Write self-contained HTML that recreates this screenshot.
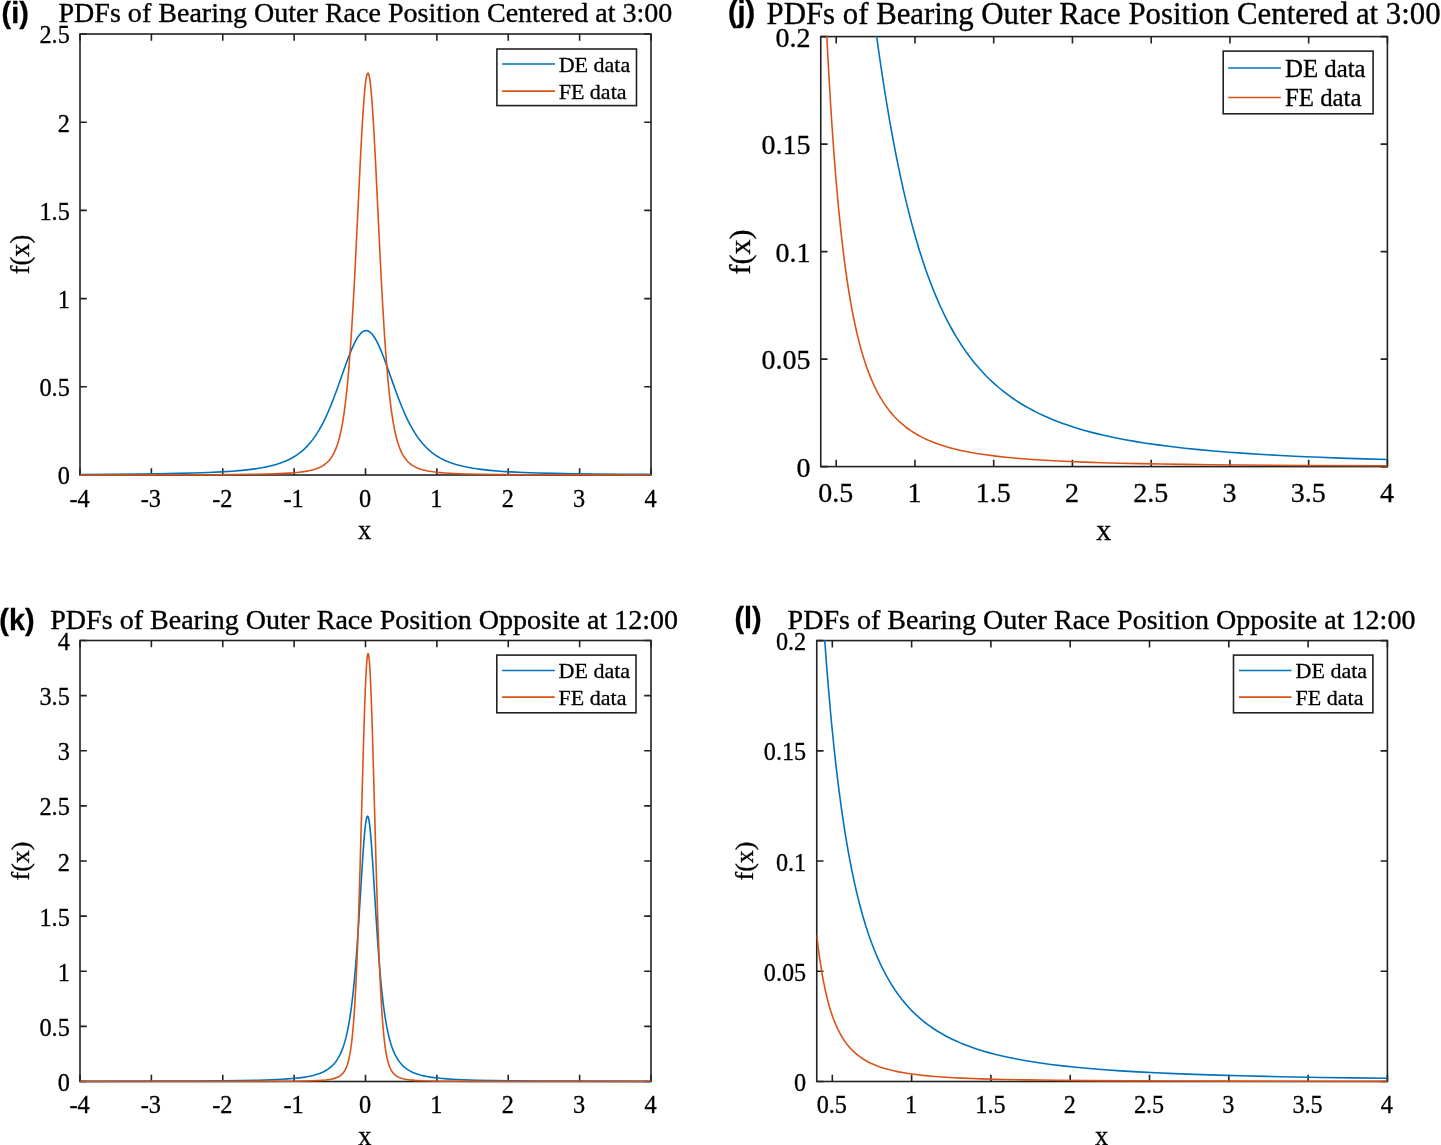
<!DOCTYPE html>
<html lang="en"><head><meta charset="utf-8"><title>PDFs of Bearing Outer Race Position</title>
<style>html,body{margin:0;padding:0;background:#fff;}body{width:1441px;height:1145px;overflow:hidden;}svg{display:block;}</style></head><body>
<svg width="1441" height="1145" viewBox="0 0 1441 1145">
<rect width="1441" height="1145" fill="#fff"/>
<g id="panel-i">
<path d="M80.00 475.00 V468.20 M80.00 34.00 V40.80 M151.38 475.00 V468.20 M151.38 34.00 V40.80 M222.75 475.00 V468.20 M222.75 34.00 V40.80 M294.12 475.00 V468.20 M294.12 34.00 V40.80 M365.50 475.00 V468.20 M365.50 34.00 V40.80 M436.88 475.00 V468.20 M436.88 34.00 V40.80 M508.25 475.00 V468.20 M508.25 34.00 V40.80 M579.62 475.00 V468.20 M579.62 34.00 V40.80 M651.00 475.00 V468.20 M651.00 34.00 V40.80 M80.00 475.00 H86.80 M651.00 475.00 H644.20 M80.00 386.80 H86.80 M651.00 386.80 H644.20 M80.00 298.60 H86.80 M651.00 298.60 H644.20 M80.00 210.40 H86.80 M651.00 210.40 H644.20 M80.00 122.20 H86.80 M651.00 122.20 H644.20 M80.00 34.00 H86.80 M651.00 34.00 H644.20" stroke="#222222" stroke-width="1.60" fill="none"/>
<rect x="80.00" y="34.00" width="571.00" height="441.00" fill="none" stroke="#222222" stroke-width="1.60"/>
<clipPath id="clip-i"><rect x="79.70" y="33.70" width="571.60" height="442.50"/></clipPath>
<g clip-path="url(#clip-i)" fill="none" stroke-width="1.60" stroke-linejoin="round">
<path d="M80.00 474.43 L110.50 474.25 L136.50 474.02 L158.50 473.74 L177.50 473.40 L194.00 472.98 L208.50 472.48 L221.00 471.89 L232.00 471.20 L242.00 470.37 L246.50 469.91 L251.00 469.39 L255.00 468.85 L259.00 468.25 L263.00 467.56 L266.50 466.87 L270.00 466.09 L273.00 465.35 L276.00 464.51 L279.00 463.58 L282.00 462.53 L284.50 461.55 L287.00 460.48 L289.50 459.28 L292.00 457.96 L294.00 456.81 L296.00 455.55 L298.00 454.18 L300.00 452.68 L302.00 451.06 L304.00 449.29 L305.50 447.87 L307.50 445.82 L309.00 444.16 L311.00 441.79 L312.50 439.88 L314.50 437.14 L316.00 434.94 L317.50 432.60 L319.00 430.13 L320.50 427.52 L322.00 424.76 L323.50 421.85 L325.00 418.80 L326.50 415.59 L328.00 412.24 L331.00 405.10 L333.50 398.75 L336.50 390.71 L345.00 366.78 L348.00 358.58 L349.50 354.67 L351.00 350.93 L352.50 347.41 L354.00 344.14 L355.50 341.15 L357.00 338.48 L358.50 336.16 L360.00 334.21 L361.00 333.14 L361.50 332.67 L362.50 331.88 L363.00 331.55 L364.00 331.04 L364.50 330.86 L365.00 330.73 L366.00 330.62 L367.00 330.70 L367.50 330.82 L368.00 330.99 L369.00 331.47 L369.50 331.78 L370.50 332.55 L371.00 333.00 L372.00 334.05 L373.50 335.96 L375.00 338.24 L376.50 340.88 L378.50 344.89 L379.50 347.09 L381.00 350.59 L382.50 354.31 L384.00 358.20 L387.00 366.39 L393.00 383.36 L396.00 391.69 L399.00 399.68 L401.50 405.98 L404.50 413.05 L406.00 416.37 L407.50 419.54 L409.00 422.56 L410.50 425.43 L412.00 428.15 L413.50 430.73 L415.00 433.17 L416.50 435.47 L418.00 437.65 L420.00 440.34 L421.50 442.23 L423.00 444.00 L424.50 445.66 L426.50 447.73 L428.00 449.16 L430.00 450.94 L432.00 452.57 L434.00 454.07 L436.00 455.45 L438.00 456.72 L440.00 457.89 L442.50 459.21 L445.00 460.41 L447.50 461.49 L450.00 462.47 L453.00 463.53 L456.00 464.47 L459.00 465.31 L462.00 466.06 L465.50 466.84 L469.00 467.53 L473.00 468.23 L477.00 468.83 L481.00 469.37 L485.50 469.90 L490.00 470.36 L500.00 471.19 L511.00 471.89 L523.50 472.48 L538.00 472.98 L554.50 473.39 L573.00 473.73 L595.00 474.01 L620.50 474.24 L651.00 474.42" stroke="#0072BD"/>
<path d="M80.00 474.94 L178.50 474.81 L209.50 474.70 L233.50 474.55 L252.50 474.32 L267.50 474.02 L279.50 473.62 L284.50 473.38 L289.50 473.08 L294.00 472.74 L298.50 472.32 L302.00 471.90 L305.50 471.38 L308.50 470.84 L311.50 470.18 L314.00 469.51 L316.50 468.69 L319.00 467.70 L321.00 466.74 L323.00 465.60 L325.00 464.22 L326.50 463.00 L328.00 461.58 L329.50 459.92 L331.00 457.97 L332.50 455.66 L334.00 452.92 L335.50 449.64 L336.50 447.11 L337.50 444.24 L338.50 440.99 L339.50 437.31 L340.50 433.13 L341.50 428.39 L342.50 423.01 L343.50 416.91 L344.00 413.57 L345.00 406.23 L346.00 397.95 L347.50 383.57 L349.00 366.59 L350.50 346.77 L351.50 331.94 L353.00 307.25 L354.00 289.26 L355.50 260.31 L360.50 157.25 L362.00 129.37 L363.00 113.01 L364.00 98.96 L364.50 92.94 L365.00 87.65 L365.50 83.13 L366.00 79.41 L366.50 76.53 L367.00 74.51 L367.50 73.36 L368.00 73.10 L368.50 73.72 L369.00 75.23 L369.50 77.60 L370.00 80.82 L370.50 84.87 L371.00 89.71 L371.50 95.31 L372.00 101.62 L373.00 116.17 L374.00 132.95 L375.50 161.27 L380.00 254.35 L381.50 283.72 L382.50 302.04 L384.00 327.29 L385.00 342.51 L386.50 362.90 L388.00 380.43 L389.50 395.30 L390.50 403.88 L391.50 411.49 L392.00 414.96 L393.00 421.28 L394.00 426.87 L395.00 431.79 L396.00 436.12 L397.00 439.95 L398.00 443.32 L399.00 446.29 L400.00 448.92 L401.50 452.32 L403.00 455.15 L404.50 457.54 L406.00 459.56 L407.50 461.27 L409.00 462.74 L410.50 463.99 L412.00 465.08 L414.00 466.31 L416.00 467.34 L418.50 468.40 L421.00 469.26 L423.50 469.98 L426.50 470.68 L429.50 471.25 L433.00 471.79 L436.50 472.23 L440.50 472.63 L445.00 472.99 L449.50 473.28 L454.50 473.54 L466.50 473.97 L481.50 474.29 L500.00 474.52 L523.50 474.69 L554.00 474.81 L651.00 474.93" stroke="#D95319"/>
</g>
<g font-family="'Liberation Serif', serif" font-size="24.30" fill="#000" stroke="#000" stroke-width="0.3">
<text x="79.50" y="507.30" text-anchor="middle">-4</text>
<text x="150.88" y="507.30" text-anchor="middle">-3</text>
<text x="222.25" y="507.30" text-anchor="middle">-2</text>
<text x="293.62" y="507.30" text-anchor="middle">-1</text>
<text x="365.00" y="507.30" text-anchor="middle">0</text>
<text x="436.38" y="507.30" text-anchor="middle">1</text>
<text x="507.75" y="507.30" text-anchor="middle">2</text>
<text x="579.12" y="507.30" text-anchor="middle">3</text>
<text x="650.50" y="507.30" text-anchor="middle">4</text>
<text x="69.80" y="484.30" text-anchor="end">0</text>
<text x="69.80" y="396.10" text-anchor="end">0.5</text>
<text x="69.80" y="307.90" text-anchor="end">1</text>
<text x="69.80" y="219.70" text-anchor="end">1.5</text>
<text x="69.80" y="131.50" text-anchor="end">2</text>
<text x="69.80" y="43.30" text-anchor="end">2.5</text>
</g>
<text x="365.40" y="22.10" text-anchor="middle" font-family="'Liberation Serif', serif" font-size="28.05" fill="#000" stroke="#000" stroke-width="0.35">PDFs of Bearing Outer Race Position Centered at 3:00</text>
<text x="1.60" y="22.60" font-family="'Liberation Sans', sans-serif" font-weight="bold" font-size="28.8" fill="#000" stroke="#000" stroke-width="0.3">(i)</text>
<text x="364.60" y="539.00" text-anchor="middle" font-family="'Liberation Serif', serif" font-size="26.40" fill="#000" stroke="#000" stroke-width="0.3">x</text>
<text transform="translate(28.60 254.50) rotate(-90)" text-anchor="middle" font-family="'Liberation Serif', serif" font-size="26.40" fill="#000" stroke="#000" stroke-width="0.3">f(x)</text>
<rect x="496.90" y="49.00" width="139.60" height="56.60" fill="#fff" stroke="#222222" stroke-width="1.60"/>
<path d="M502.10 64.05 H555.00" stroke="#0072BD" stroke-width="1.60"/>
<path d="M502.10 91.10 H555.00" stroke="#D95319" stroke-width="1.60"/>
<text x="558.70" y="71.90" font-family="'Liberation Serif', serif" font-size="22.00" fill="#000" stroke="#000" stroke-width="0.3">DE data</text>
<text x="558.70" y="98.75" font-family="'Liberation Serif', serif" font-size="22.00" fill="#000" stroke="#000" stroke-width="0.3">FE data</text>
</g>
<g id="panel-j">
<path d="M836.21 466.60 V459.80 M836.21 36.60 V43.40 M914.96 466.60 V459.80 M914.96 36.60 V43.40 M993.70 466.60 V459.80 M993.70 36.60 V43.40 M1072.44 466.60 V459.80 M1072.44 36.60 V43.40 M1151.18 466.60 V459.80 M1151.18 36.60 V43.40 M1229.92 466.60 V459.80 M1229.92 36.60 V43.40 M1308.66 466.60 V459.80 M1308.66 36.60 V43.40 M1387.40 466.60 V459.80 M1387.40 36.60 V43.40 M820.75 466.60 H827.55 M1387.40 466.60 H1380.60 M820.75 359.10 H827.55 M1387.40 359.10 H1380.60 M820.75 251.60 H827.55 M1387.40 251.60 H1380.60 M820.75 144.10 H827.55 M1387.40 144.10 H1380.60 M820.75 36.60 H827.55 M1387.40 36.60 H1380.60" stroke="#222222" stroke-width="1.60" fill="none"/>
<rect x="820.75" y="36.60" width="566.65" height="430.00" fill="none" stroke="#222222" stroke-width="1.60"/>
<clipPath id="clip-j"><rect x="820.45" y="36.30" width="567.25" height="431.50"/></clipPath>
<g clip-path="url(#clip-j)" fill="none" stroke-width="1.60" stroke-linejoin="round">
<path d="M820.75 -23.40 L868.75 -23.40 L869.75 -17.20 L872.75 6.95 L875.75 29.83 L877.75 44.40 L880.75 65.27 L883.75 85.00 L886.75 103.64 L889.75 121.26 L892.75 137.89 L895.75 153.60 L898.75 168.42 L901.75 182.42 L903.75 191.31 L905.75 199.86 L908.75 212.09 L910.75 219.87 L912.75 227.35 L914.75 234.55 L916.75 241.48 L918.75 248.15 L920.75 254.58 L922.75 260.76 L924.75 266.72 L926.75 272.46 L928.75 277.99 L930.75 283.32 L932.75 288.46 L934.75 293.41 L936.75 298.18 L938.75 302.78 L940.75 307.22 L942.75 311.50 L945.75 317.65 L947.75 321.56 L949.75 325.34 L951.75 329.00 L954.75 334.24 L956.75 337.59 L959.75 342.40 L961.75 345.48 L964.75 349.90 L966.75 352.73 L969.75 356.80 L971.75 359.41 L974.75 363.16 L976.75 365.56 L979.75 369.03 L982.75 372.33 L985.75 375.48 L988.75 378.49 L991.75 381.36 L994.75 384.11 L997.75 386.74 L1000.75 389.25 L1003.75 391.65 L1006.75 393.95 L1009.75 396.15 L1012.75 398.27 L1015.75 400.29 L1018.75 402.23 L1022.75 404.70 L1025.75 406.47 L1028.75 408.16 L1031.75 409.79 L1035.75 411.87 L1038.75 413.35 L1042.75 415.25 L1046.75 417.05 L1050.75 418.77 L1054.75 420.40 L1058.75 421.95 L1062.75 423.44 L1066.75 424.85 L1074.75 427.49 L1078.75 428.72 L1083.75 430.18 L1092.75 432.62 L1097.75 433.88 L1102.75 435.07 L1112.75 437.27 L1123.75 439.46 L1134.75 441.41 L1145.75 443.18 L1157.75 444.91 L1170.75 446.58 L1184.75 448.19 L1198.75 449.62 L1213.75 450.98 L1228.75 452.19 L1245.75 453.41 L1262.75 454.48 L1280.75 455.49 L1299.75 456.43 L1319.75 457.30 L1340.75 458.10 L1363.75 458.87 L1387.40 459.57" stroke="#0072BD"/>
<path d="M820.75 -23.40 L823.75 -23.40 L824.75 -7.65 L825.75 14.21 L827.75 54.37 L828.75 72.80 L830.75 106.68 L831.75 122.24 L833.75 150.88 L835.75 176.54 L837.75 199.55 L838.75 210.16 L840.75 229.77 L842.75 247.44 L844.75 263.39 L845.75 270.79 L847.75 284.52 L849.75 296.97 L851.75 308.29 L853.75 318.61 L855.75 328.02 L857.75 336.62 L858.75 340.65 L860.75 348.20 L862.75 355.13 L863.75 358.39 L865.75 364.52 L866.75 367.40 L868.75 372.84 L869.75 375.40 L871.75 380.24 L872.75 382.52 L874.75 386.84 L875.75 388.89 L877.75 392.76 L878.75 394.60 L880.75 398.08 L882.75 401.34 L884.75 404.38 L886.75 407.22 L888.75 409.88 L890.75 412.38 L892.75 414.73 L894.75 416.93 L896.75 419.01 L898.75 420.97 L901.75 423.69 L903.75 425.39 L905.75 426.99 L907.75 428.50 L910.75 430.62 L912.75 431.95 L915.75 433.80 L917.75 434.97 L920.75 436.60 L923.75 438.12 L926.75 439.54 L929.75 440.86 L932.75 442.08 L935.75 443.23 L938.75 444.31 L941.75 445.31 L945.75 446.55 L948.75 447.42 L952.75 448.50 L956.75 449.49 L960.75 450.41 L964.75 451.26 L968.75 452.05 L976.75 453.46 L985.75 454.83 L995.75 456.13 L1005.75 457.24 L1016.75 458.27 L1028.75 459.23 L1040.75 460.04 L1053.75 460.78 L1068.75 461.50 L1084.75 462.13 L1101.75 462.70 L1119.75 463.19 L1139.75 463.64 L1161.75 464.04 L1184.75 464.39 L1210.75 464.70 L1239.75 464.99 L1305.75 465.44 L1387.40 465.79" stroke="#D95319"/>
</g>
<g font-family="'Liberation Serif', serif" font-size="28.00" fill="#000" stroke="#000" stroke-width="0.3">
<text x="835.71" y="502.00" text-anchor="middle">0.5</text>
<text x="914.46" y="502.00" text-anchor="middle">1</text>
<text x="993.20" y="502.00" text-anchor="middle">1.5</text>
<text x="1071.94" y="502.00" text-anchor="middle">2</text>
<text x="1150.68" y="502.00" text-anchor="middle">2.5</text>
<text x="1229.42" y="502.00" text-anchor="middle">3</text>
<text x="1308.16" y="502.00" text-anchor="middle">3.5</text>
<text x="1386.90" y="502.00" text-anchor="middle">4</text>
<text x="810.60" y="476.90" text-anchor="end">0</text>
<text x="810.60" y="369.40" text-anchor="end">0.05</text>
<text x="810.60" y="261.90" text-anchor="end">0.1</text>
<text x="810.60" y="154.40" text-anchor="end">0.15</text>
<text x="810.60" y="46.90" text-anchor="end">0.2</text>
</g>
<text x="1103.60" y="23.60" text-anchor="middle" font-family="'Liberation Serif', serif" font-size="30.80" fill="#000" stroke="#000" stroke-width="0.35">PDFs of Bearing Outer Race Position Centered at 3:00</text>
<text x="728.00" y="22.30" font-family="'Liberation Sans', sans-serif" font-weight="bold" font-size="28.8" fill="#000" stroke="#000" stroke-width="0.3">(j)</text>
<text x="1103.70" y="539.80" text-anchor="middle" font-family="'Liberation Serif', serif" font-size="30.00" fill="#000" stroke="#000" stroke-width="0.3">x</text>
<text transform="translate(750.20 252.10) rotate(-90)" text-anchor="middle" font-family="'Liberation Serif', serif" font-size="30.00" fill="#000" stroke="#000" stroke-width="0.3">f(x)</text>
<rect x="1223.20" y="51.10" width="149.90" height="62.70" fill="#fff" stroke="#222222" stroke-width="1.60"/>
<path d="M1228.20 68.05 H1280.90" stroke="#0072BD" stroke-width="1.60"/>
<path d="M1228.20 97.50 H1280.90" stroke="#D95319" stroke-width="1.60"/>
<text x="1285.00" y="76.50" font-family="'Liberation Serif', serif" font-size="24.80" fill="#000" stroke="#000" stroke-width="0.3">DE data</text>
<text x="1285.00" y="106.30" font-family="'Liberation Serif', serif" font-size="24.80" fill="#000" stroke="#000" stroke-width="0.3">FE data</text>
</g>
<g id="panel-k">
<path d="M80.00 1081.50 V1074.70 M80.00 640.50 V647.30 M151.38 1081.50 V1074.70 M151.38 640.50 V647.30 M222.75 1081.50 V1074.70 M222.75 640.50 V647.30 M294.12 1081.50 V1074.70 M294.12 640.50 V647.30 M365.50 1081.50 V1074.70 M365.50 640.50 V647.30 M436.88 1081.50 V1074.70 M436.88 640.50 V647.30 M508.25 1081.50 V1074.70 M508.25 640.50 V647.30 M579.62 1081.50 V1074.70 M579.62 640.50 V647.30 M651.00 1081.50 V1074.70 M651.00 640.50 V647.30 M80.00 1081.50 H86.80 M651.00 1081.50 H644.20 M80.00 1026.38 H86.80 M651.00 1026.38 H644.20 M80.00 971.25 H86.80 M651.00 971.25 H644.20 M80.00 916.12 H86.80 M651.00 916.12 H644.20 M80.00 861.00 H86.80 M651.00 861.00 H644.20 M80.00 805.88 H86.80 M651.00 805.88 H644.20 M80.00 750.75 H86.80 M651.00 750.75 H644.20 M80.00 695.62 H86.80 M651.00 695.62 H644.20 M80.00 640.50 H86.80 M651.00 640.50 H644.20" stroke="#222222" stroke-width="1.60" fill="none"/>
<rect x="80.00" y="640.50" width="571.00" height="441.00" fill="none" stroke="#222222" stroke-width="1.60"/>
<clipPath id="clip-k"><rect x="79.70" y="640.20" width="571.60" height="442.50"/></clipPath>
<g clip-path="url(#clip-k)" fill="none" stroke-width="1.60" stroke-linejoin="round">
<path d="M80.00 1081.35 L167.50 1081.16 L198.00 1081.01 L222.00 1080.81 L242.00 1080.55 L258.00 1080.21 L271.50 1079.78 L282.50 1079.24 L287.50 1078.92 L292.50 1078.52 L297.00 1078.08 L301.00 1077.61 L304.50 1077.11 L308.00 1076.52 L311.00 1075.91 L314.00 1075.19 L317.00 1074.33 L319.50 1073.48 L322.00 1072.48 L324.00 1071.53 L326.00 1070.45 L328.00 1069.18 L330.00 1067.70 L331.50 1066.41 L332.50 1065.46 L333.50 1064.42 L335.00 1062.68 L336.50 1060.67 L338.00 1058.35 L339.50 1055.66 L340.50 1053.62 L342.00 1050.13 L343.00 1047.46 L344.00 1044.48 L345.00 1041.14 L346.00 1037.39 L347.00 1033.17 L348.00 1028.41 L349.00 1023.05 L350.00 1016.99 L350.50 1013.68 L351.50 1006.41 L352.00 1002.44 L353.50 989.01 L355.00 973.09 L356.00 960.99 L357.00 947.69 L358.50 925.65 L362.00 869.03 L363.00 853.73 L364.00 840.12 L364.50 834.18 L365.00 828.96 L365.50 824.54 L366.00 820.99 L366.50 818.38 L367.00 816.75 L367.50 816.13 L368.00 816.55 L368.50 817.98 L369.00 820.41 L369.50 823.78 L370.00 828.04 L370.50 833.11 L371.50 845.35 L372.50 859.74 L376.50 924.15 L378.00 946.34 L379.00 959.75 L380.00 971.97 L381.50 988.06 L383.00 1001.64 L383.50 1005.66 L384.50 1013.01 L385.00 1016.36 L386.00 1022.49 L387.00 1027.92 L388.00 1032.73 L389.00 1037.00 L390.00 1040.79 L391.00 1044.17 L392.00 1047.18 L393.00 1049.88 L394.50 1053.41 L395.50 1055.47 L397.00 1058.19 L398.50 1060.53 L400.00 1062.55 L401.50 1064.32 L402.50 1065.36 L403.50 1066.32 L405.00 1067.62 L407.00 1069.11 L409.00 1070.39 L411.00 1071.49 L413.00 1072.43 L415.50 1073.45 L418.00 1074.30 L421.00 1075.17 L424.00 1075.89 L427.00 1076.50 L430.50 1077.10 L434.00 1077.60 L438.00 1078.07 L442.00 1078.47 L447.00 1078.87 L452.00 1079.21 L463.00 1079.75 L476.50 1080.20 L492.50 1080.54 L512.00 1080.80 L536.00 1081.00 L565.50 1081.15 L651.00 1081.34" stroke="#0072BD"/>
<path d="M80.00 1081.49 L205.50 1081.46 L262.50 1081.39 L281.00 1081.31 L294.50 1081.19 L305.00 1081.02 L313.00 1080.79 L320.50 1080.42 L323.50 1080.19 L326.00 1079.94 L328.50 1079.62 L330.50 1079.30 L332.50 1078.89 L334.50 1078.37 L336.00 1077.87 L337.50 1077.26 L339.00 1076.49 L340.00 1075.86 L341.00 1075.11 L342.00 1074.22 L343.00 1073.14 L344.00 1071.83 L345.00 1070.21 L346.00 1068.22 L347.00 1065.73 L347.50 1064.25 L348.50 1060.74 L349.00 1058.65 L350.00 1053.66 L350.50 1050.68 L351.50 1043.55 L352.00 1039.32 L353.00 1029.24 L354.00 1016.67 L355.00 1001.14 L356.00 982.26 L357.00 959.71 L357.50 947.00 L358.50 918.74 L360.00 869.90 L363.50 743.40 L364.50 711.40 L365.00 697.34 L365.50 684.89 L366.00 674.27 L366.50 665.68 L367.00 659.28 L367.50 655.18 L368.00 653.46 L368.50 654.16 L369.00 657.26 L369.50 662.71 L370.00 670.40 L370.50 680.19 L371.00 691.89 L371.50 705.30 L372.50 736.31 L373.50 771.20 L376.00 862.54 L377.50 912.33 L378.50 941.37 L379.00 954.48 L380.00 977.83 L381.00 997.46 L382.00 1013.66 L383.00 1026.82 L384.00 1037.38 L384.50 1041.83 L385.50 1049.31 L386.00 1052.45 L387.00 1057.70 L387.50 1059.89 L388.50 1063.58 L389.00 1065.13 L390.00 1067.74 L391.00 1069.83 L392.00 1071.51 L393.00 1072.88 L394.00 1074.01 L395.00 1074.94 L396.00 1075.71 L397.00 1076.36 L398.50 1077.16 L400.00 1077.80 L401.50 1078.31 L403.00 1078.72 L405.00 1079.17 L407.00 1079.52 L409.50 1079.86 L412.00 1080.12 L415.00 1080.37 L422.50 1080.77 L430.50 1081.00 L441.00 1081.18 L454.50 1081.30 L472.00 1081.38 L528.00 1081.46 L651.00 1081.49" stroke="#D95319"/>
</g>
<g font-family="'Liberation Serif', serif" font-size="24.30" fill="#000" stroke="#000" stroke-width="0.3">
<text x="79.50" y="1113.30" text-anchor="middle">-4</text>
<text x="150.88" y="1113.30" text-anchor="middle">-3</text>
<text x="222.25" y="1113.30" text-anchor="middle">-2</text>
<text x="293.62" y="1113.30" text-anchor="middle">-1</text>
<text x="365.00" y="1113.30" text-anchor="middle">0</text>
<text x="436.38" y="1113.30" text-anchor="middle">1</text>
<text x="507.75" y="1113.30" text-anchor="middle">2</text>
<text x="579.12" y="1113.30" text-anchor="middle">3</text>
<text x="650.50" y="1113.30" text-anchor="middle">4</text>
<text x="69.80" y="1091.00" text-anchor="end">0</text>
<text x="69.80" y="1035.88" text-anchor="end">0.5</text>
<text x="69.80" y="980.75" text-anchor="end">1</text>
<text x="69.80" y="925.62" text-anchor="end">1.5</text>
<text x="69.80" y="870.50" text-anchor="end">2</text>
<text x="69.80" y="815.38" text-anchor="end">2.5</text>
<text x="69.80" y="760.25" text-anchor="end">3</text>
<text x="69.80" y="705.12" text-anchor="end">3.5</text>
<text x="69.80" y="650.00" text-anchor="end">4</text>
</g>
<text x="364.20" y="628.60" text-anchor="middle" font-family="'Liberation Serif', serif" font-size="28.05" fill="#000" stroke="#000" stroke-width="0.35">PDFs of Bearing Outer Race Position Opposite at 12:00</text>
<text x="-0.70" y="629.80" font-family="'Liberation Sans', sans-serif" font-weight="bold" font-size="28.8" fill="#000" stroke="#000" stroke-width="0.3">(k)</text>
<text x="364.90" y="1145.00" text-anchor="middle" font-family="'Liberation Serif', serif" font-size="26.40" fill="#000" stroke="#000" stroke-width="0.3">x</text>
<text transform="translate(28.80 861.00) rotate(-90)" text-anchor="middle" font-family="'Liberation Serif', serif" font-size="26.00" fill="#000" stroke="#000" stroke-width="0.3">f(x)</text>
<rect x="496.80" y="655.10" width="139.20" height="57.70" fill="#fff" stroke="#222222" stroke-width="1.60"/>
<path d="M502.10 670.50 H554.80" stroke="#0072BD" stroke-width="1.60"/>
<path d="M502.10 697.10 H554.80" stroke="#D95319" stroke-width="1.60"/>
<text x="558.60" y="678.40" font-family="'Liberation Serif', serif" font-size="22.00" fill="#000" stroke="#000" stroke-width="0.3">DE data</text>
<text x="558.60" y="704.70" font-family="'Liberation Serif', serif" font-size="22.00" fill="#000" stroke="#000" stroke-width="0.3">FE data</text>
</g>
<g id="panel-l">
<path d="M832.32 1081.50 V1074.70 M832.32 640.60 V647.40 M911.62 1081.50 V1074.70 M911.62 640.60 V647.40 M990.92 1081.50 V1074.70 M990.92 640.60 V647.40 M1070.21 1081.50 V1074.70 M1070.21 640.60 V647.40 M1149.51 1081.50 V1074.70 M1149.51 640.60 V647.40 M1228.81 1081.50 V1074.70 M1228.81 640.60 V647.40 M1308.10 1081.50 V1074.70 M1308.10 640.60 V647.40 M1387.40 1081.50 V1074.70 M1387.40 640.60 V647.40 M816.75 1081.50 H823.55 M1387.40 1081.50 H1380.60 M816.75 971.27 H823.55 M1387.40 971.27 H1380.60 M816.75 861.05 H823.55 M1387.40 861.05 H1380.60 M816.75 750.83 H823.55 M1387.40 750.83 H1380.60 M816.75 640.60 H823.55 M1387.40 640.60 H1380.60" stroke="#222222" stroke-width="1.60" fill="none"/>
<rect x="816.75" y="640.60" width="570.65" height="440.90" fill="none" stroke="#222222" stroke-width="1.60"/>
<clipPath id="clip-l"><rect x="816.45" y="640.30" width="571.25" height="442.40"/></clipPath>
<g clip-path="url(#clip-l)" fill="none" stroke-width="1.60" stroke-linejoin="round">
<path d="M816.75 580.60 L820.75 580.60 L822.75 611.32 L824.75 640.56 L826.75 667.34 L828.75 691.90 L830.75 714.46 L831.75 725.06 L833.75 745.00 L835.75 763.41 L836.75 772.08 L838.75 788.45 L840.75 803.62 L842.75 817.70 L844.75 830.78 L846.75 842.96 L848.75 854.31 L849.75 859.70 L851.75 869.94 L853.75 879.52 L854.75 884.08 L856.75 892.76 L857.75 896.90 L859.75 904.79 L862.75 915.75 L865.75 925.76 L868.75 934.92 L871.75 943.32 L873.75 948.54 L875.75 953.48 L878.75 960.41 L880.75 964.73 L882.75 968.84 L884.75 972.73 L886.75 976.44 L888.75 979.96 L890.75 983.32 L892.75 986.52 L894.75 989.57 L896.75 992.48 L899.75 996.60 L901.75 999.19 L904.75 1002.87 L906.75 1005.20 L909.75 1008.50 L911.75 1010.59 L914.75 1013.56 L916.75 1015.44 L919.75 1018.12 L921.75 1019.83 L924.75 1022.26 L927.75 1024.55 L930.75 1026.72 L933.75 1028.77 L936.75 1030.71 L939.75 1032.54 L942.75 1034.29 L945.75 1035.94 L949.75 1038.02 L952.75 1039.49 L956.75 1041.33 L959.75 1042.64 L963.75 1044.29 L967.75 1045.84 L971.75 1047.30 L975.75 1048.68 L979.75 1049.97 L983.75 1051.19 L988.75 1052.62 L992.75 1053.70 L997.75 1054.96 L1006.75 1057.04 L1011.75 1058.09 L1016.75 1059.08 L1021.75 1060.00 L1027.75 1061.04 L1038.75 1062.77 L1050.75 1064.42 L1062.75 1065.87 L1075.75 1067.24 L1089.75 1068.53 L1104.75 1069.74 L1120.75 1070.85 L1137.75 1071.87 L1155.75 1072.80 L1174.75 1073.65 L1194.75 1074.42 L1216.75 1075.14 L1240.75 1075.81 L1265.75 1076.41 L1292.75 1076.96 L1321.75 1077.45 L1353.75 1077.91 L1387.40 1078.32" stroke="#0072BD"/>
<path d="M816.75 935.25 L817.75 943.75 L818.75 951.58 L819.75 958.80 L820.75 965.46 L821.75 971.63 L822.75 977.34 L823.75 982.65 L824.75 987.58 L825.75 992.17 L826.75 996.45 L827.75 1000.44 L828.75 1004.18 L829.75 1007.67 L830.75 1010.95 L832.75 1016.91 L833.75 1019.62 L835.75 1024.59 L837.75 1029.01 L839.75 1032.96 L841.75 1036.51 L843.75 1039.70 L845.75 1042.58 L846.75 1043.92 L848.75 1046.40 L850.75 1048.66 L851.75 1049.72 L853.75 1051.69 L856.75 1054.34 L859.75 1056.67 L862.75 1058.73 L865.75 1060.56 L868.75 1062.19 L870.75 1063.18 L872.75 1064.10 L876.75 1065.75 L880.75 1067.20 L884.75 1068.46 L889.75 1069.84 L893.75 1070.80 L898.75 1071.85 L903.75 1072.76 L908.75 1073.56 L913.75 1074.26 L919.75 1074.99 L925.75 1075.62 L931.75 1076.18 L938.75 1076.73 L945.75 1077.21 L953.75 1077.68 L962.75 1078.13 L971.75 1078.51 L981.75 1078.86 L1002.75 1079.44 L1026.75 1079.91 L1054.75 1080.28 L1087.75 1080.59 L1126.75 1080.83 L1173.75 1081.01 L1229.75 1081.15 L1387.40 1081.34" stroke="#D95319"/>
</g>
<g font-family="'Liberation Serif', serif" font-size="24.20" fill="#000" stroke="#000" stroke-width="0.3">
<text x="831.82" y="1113.30" text-anchor="middle">0.5</text>
<text x="911.12" y="1113.30" text-anchor="middle">1</text>
<text x="990.42" y="1113.30" text-anchor="middle">1.5</text>
<text x="1069.71" y="1113.30" text-anchor="middle">2</text>
<text x="1149.01" y="1113.30" text-anchor="middle">2.5</text>
<text x="1228.31" y="1113.30" text-anchor="middle">3</text>
<text x="1307.60" y="1113.30" text-anchor="middle">3.5</text>
<text x="1386.90" y="1113.30" text-anchor="middle">4</text>
<text x="806.20" y="1091.00" text-anchor="end">0</text>
<text x="806.20" y="980.77" text-anchor="end">0.05</text>
<text x="806.20" y="870.55" text-anchor="end">0.1</text>
<text x="806.20" y="760.33" text-anchor="end">0.15</text>
<text x="806.20" y="650.10" text-anchor="end">0.2</text>
</g>
<text x="1101.50" y="628.60" text-anchor="middle" font-family="'Liberation Serif', serif" font-size="28.05" fill="#000" stroke="#000" stroke-width="0.35">PDFs of Bearing Outer Race Position Opposite at 12:00</text>
<text x="734.50" y="627.50" font-family="'Liberation Sans', sans-serif" font-weight="bold" font-size="28.8" fill="#000" stroke="#000" stroke-width="0.3">(l)</text>
<text x="1101.70" y="1145.00" text-anchor="middle" font-family="'Liberation Serif', serif" font-size="26.40" fill="#000" stroke="#000" stroke-width="0.3">x</text>
<text transform="translate(753.30 861.00) rotate(-90)" text-anchor="middle" font-family="'Liberation Serif', serif" font-size="26.00" fill="#000" stroke="#000" stroke-width="0.3">f(x)</text>
<rect x="1233.50" y="655.10" width="139.40" height="57.70" fill="#fff" stroke="#222222" stroke-width="1.60"/>
<path d="M1239.00 670.50 H1291.50" stroke="#0072BD" stroke-width="1.60"/>
<path d="M1239.00 697.10 H1291.50" stroke="#D95319" stroke-width="1.60"/>
<text x="1295.60" y="678.40" font-family="'Liberation Serif', serif" font-size="22.00" fill="#000" stroke="#000" stroke-width="0.3">DE data</text>
<text x="1295.60" y="704.70" font-family="'Liberation Serif', serif" font-size="22.00" fill="#000" stroke="#000" stroke-width="0.3">FE data</text>
</g>
</svg></body></html>
